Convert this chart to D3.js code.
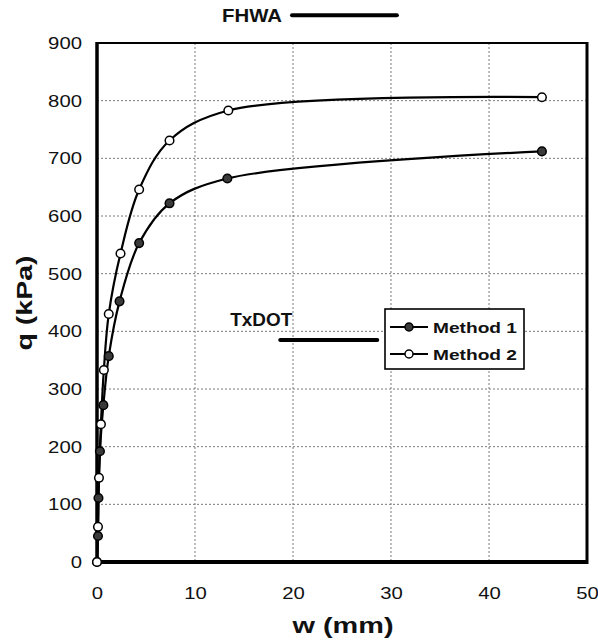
<!DOCTYPE html>
<html>
<head>
<meta charset="utf-8">
<script src="https://cdn.jsdelivr.net/npm/d3@7"></script>
<style>
  html, body { margin: 0; padding: 0; background: #fff; }
  svg { display: block; font-family: "Liberation Sans", Arial, sans-serif; }
</style>
</head>
<body>
<svg id="chart" width="598" height="644"></svg>
<script>
// ---- data ----
const seriesNames = ["Method 1", "Method 2"];
const m1W = [0, 0.1, 0.15, 0.3, 0.65, 1.2, 2.3, 4.3, 7.4, 13.3, 45.4];
const m1Q = [0, 45, 111, 192, 272, 357, 452, 553, 622, 665, 712];
const m2W = [0, 0.1, 0.2, 0.4, 0.7, 1.2, 2.4, 4.3, 7.4, 13.4, 45.4];
const m2Q = [0, 61, 146, 239, 333, 430, 535, 646, 731, 783, 806];
const xTicks = [0, 10, 20, 30, 40, 50];
const yTicks = [0, 100, 200, 300, 400, 500, 600, 700, 800, 900];
const refLabels = ["TxDOT", "FHWA"];
const refQ = [385, 948];
const refW0 = [18.7, 19.9];
const refW1 = [28.6, 30.6];

// ---- layout ----
const svg = d3.select("#chart");
const L = 97, R = 587, T = 43, B = 562;
const x = d3.scaleLinear().domain([0, 50]).range([L, R]);
const y = d3.scaleLinear().domain([0, 900]).range([B, T]);

// gridlines
const grid = svg.append("g");
grid.selectAll("line.h").data(yTicks.filter(d => d > 0)).join("line")
  .attr("x1", L).attr("x2", R).attr("y1", d => y(d)).attr("y2", d => y(d))
  .attr("stroke", "#7a7a7a").attr("stroke-width", 1).attr("stroke-dasharray", "2,2");
grid.selectAll("line.v").data(xTicks.filter(d => d > 0 && d < 50)).join("line")
  .attr("x1", d => x(d)).attr("x2", d => x(d)).attr("y1", T).attr("y2", B)
  .attr("stroke", "#7a7a7a").attr("stroke-width", 1).attr("stroke-dasharray", "2,2");

// frame
svg.append("line").attr("x1", L).attr("x2", R).attr("y1", T).attr("y2", T).attr("stroke", "#000").attr("stroke-width", 2);
svg.append("line").attr("x1", R).attr("x2", R).attr("y1", T - 1).attr("y2", B + 2).attr("stroke", "#000").attr("stroke-width", 3);
svg.append("line").attr("x1", L).attr("x2", L).attr("y1", T - 1).attr("y2", B + 2).attr("stroke", "#000").attr("stroke-width", 3.5);
svg.append("line").attr("x1", L - 1).attr("x2", R + 1).attr("y1", B).attr("y2", B).attr("stroke", "#000").attr("stroke-width", 4);

// axes (labels only)
const yAxis = svg.append("g").attr("transform", `translate(${L},0)`)
  .call(d3.axisLeft(y).tickValues(yTicks).tickSize(0).tickPadding(15).tickFormat(d3.format("d")));
yAxis.select(".domain").remove();
yAxis.selectAll("text").attr("font-size", 17).attr("fill", "#111")
  .attr("font-family", "'Liberation Sans', Arial, sans-serif")
  .attr("textLength", d => String(d).length * 11.3).attr("lengthAdjust", "spacingAndGlyphs");

const xAxis = svg.append("g").attr("transform", `translate(0,${B})`)
  .call(d3.axisBottom(x).tickValues(xTicks).tickSize(0).tickPadding(25).tickFormat(d3.format("d")));
xAxis.select(".domain").remove();
xAxis.selectAll("text").attr("font-size", 17).attr("fill", "#111")
  .attr("font-family", "'Liberation Sans', Arial, sans-serif")
  .attr("textLength", d => String(d).length * 11.3).attr("lengthAdjust", "spacingAndGlyphs");

// axis titles
svg.append("text").attr("x", 343).attr("y", 633).attr("text-anchor", "middle")
  .attr("font-size", 22).attr("font-weight", "bold").attr("fill", "#111")
  .attr("textLength", 101).attr("lengthAdjust", "spacingAndGlyphs").text("w (mm)");
svg.append("text").attr("transform", "translate(32,303) rotate(-90)").attr("text-anchor", "middle")
  .attr("font-size", 22).attr("font-weight", "bold").attr("fill", "#111")
  .attr("textLength", 95).attr("lengthAdjust", "spacingAndGlyphs").text("q (kPa)");

// reference lines (TxDOT, FHWA)
refLabels.forEach((lab, i) => {
  svg.append("line").attr("x1", x(refW0[i])).attr("x2", x(refW1[i]))
    .attr("y1", y(refQ[i])).attr("y2", y(refQ[i]))
    .attr("stroke", "#000").attr("stroke-width", 4).attr("stroke-linecap", "round");
});
svg.append("text").attr("x", x(refW0[0]) - 50).attr("y", y(refQ[0]) - 14)
  .attr("font-size", 18).attr("font-weight", "bold").attr("fill", "#111")
  .attr("textLength", 62).attr("lengthAdjust", "spacingAndGlyphs").text(refLabels[0]);
svg.append("text").attr("x", x(refW0[1]) - 70).attr("y", y(refQ[1]) + 7)
  .attr("font-size", 18).attr("font-weight", "bold").attr("fill", "#111")
  .attr("textLength", 60).attr("lengthAdjust", "spacingAndGlyphs").text(refLabels[1]);

// series
const series = [
  { name: seriesNames[0], pts: m1W.map((w, i) => [w, m1Q[i]]), fill: "#3a3a3a" },
  { name: seriesNames[1], pts: m2W.map((w, i) => [w, m2Q[i]]), fill: "#fff" }
];
const line = d3.line().x(d => x(d[0])).y(d => y(d[1])).curve(d3.curveCatmullRom.alpha(0.5));
series.forEach(s => {
  svg.append("path").attr("d", line(s.pts)).attr("fill", "none")
    .attr("stroke", "#000").attr("stroke-width", 2.2);
});
series.forEach(s => {
  svg.append("g").selectAll("circle").data(s.pts).join("circle")
    .attr("cx", d => x(d[0])).attr("cy", d => y(d[1])).attr("r", 4.3)
    .attr("fill", s.fill).attr("stroke", "#000").attr("stroke-width", 1.5);
});

// legend
const lg = svg.append("g");
lg.append("rect").attr("x", 385).attr("y", 309).attr("width", 139).attr("height", 60)
  .attr("fill", "#fff").attr("stroke", "#000").attr("stroke-width", 1.6);
series.forEach((s, i) => {
  const yy = 327 + i * 27;
  lg.append("line").attr("x1", 390).attr("x2", 428).attr("y1", yy).attr("y2", yy)
    .attr("stroke", "#000").attr("stroke-width", 2);
  lg.append("circle").attr("cx", 409).attr("cy", yy).attr("r", 4)
    .attr("fill", s.fill).attr("stroke", "#000").attr("stroke-width", 1.5);
  lg.append("text").attr("x", 433).attr("y", yy + 5.5)
    .attr("font-size", 15).attr("font-weight", "bold").attr("fill", "#111")
    .attr("textLength", 84).attr("lengthAdjust", "spacingAndGlyphs").text(s.name);
});
</script>
</body>
</html>
